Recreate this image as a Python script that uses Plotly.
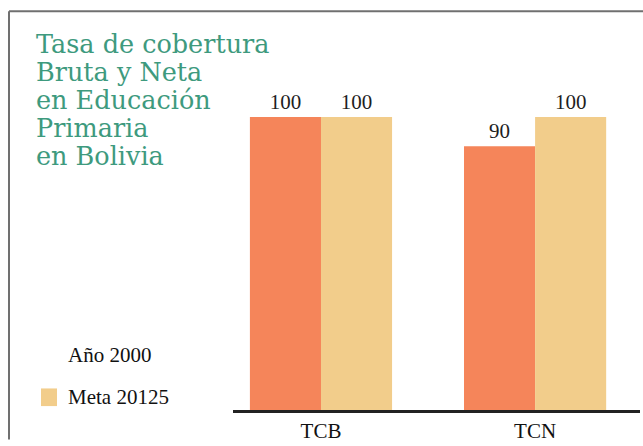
import plotly.graph_objects as go

# --- data ---
categories = ['TCB', 'TCN']
anio_2000 = [100, 90]
meta_2015 = [100, 100]
series_names = ['Año 2000', 'Meta 20125']
title_lines = ['Tasa de cobertura', 'Bruta y Neta', 'en Educación', 'Primaria', 'en Bolivia']

c_orange = '#F5855A'
c_beige = '#F2CD8B'
c_title = '#3E9A7E'
serif = 'Liberation Serif'
title_font = 'DejaVu Serif'

# pixel helpers (plot area: x 233..640, y 20..418)
L, R, T, B = 233, 3, 20, 28
W, H = 643, 446
pw, ph = W - L - R, H - T - B
def px_x(x): return (x - L) / pw
def px_y(y): return (H - B - y) / ph

fig = go.Figure()
fig.add_trace(go.Bar(x=categories, y=anio_2000, name=series_names[0],
                     marker_color=c_orange, marker_line_width=0,
                     text=anio_2000, textposition='outside',
                     textfont=dict(family=serif, size=21, color='#1e1e1e')))
fig.add_trace(go.Bar(x=categories, y=meta_2015, name=series_names[1],
                     marker_color=c_beige, marker_line_width=0,
                     text=meta_2015, textposition='outside',
                     textfont=dict(family=serif, size=21, color='#1e1e1e')))

fig.update_layout(
    width=W, height=H,
    margin=dict(l=L, r=R, t=T, b=B, pad=0),
    paper_bgcolor='white', plot_bgcolor='white',
    barmode='group', bargap=0.336, bargroupgap=0,
    showlegend=False,
    xaxis=dict(range=[-0.411, 1.49], showgrid=False, showline=True,
               linecolor='#222', linewidth=3, ticks='',
               tickfont=dict(family=serif, size=21, color='#111')),
    yaxis=dict(range=[0, 133.1], visible=False),
)

# frame (top and left border)
fig.add_shape(type='line', xref='paper', yref='paper',
              x0=px_x(9), x1=px_x(645), y0=px_y(11), y1=px_y(11),
              line=dict(color='#707070', width=2))
fig.add_shape(type='line', xref='paper', yref='paper',
              x0=px_x(9), x1=px_x(9), y0=px_y(11), y1=px_y(448),
              line=dict(color='#707070', width=2))

# title, one line per annotation
for i, line in enumerate(title_lines):
    fig.add_annotation(text=line, xref='paper', yref='paper',
                       x=px_x(34), y=px_y(45 + 28.5 * i),
                       xanchor='left', yanchor='middle', showarrow=False,
                       font=dict(family=title_font, size=25.5, color=c_title))

# legend
fig.add_annotation(text=series_names[0], xref='paper', yref='paper',
                   x=px_x(66), y=px_y(362), xanchor='left', yanchor='middle',
                   showarrow=False, font=dict(family=serif, size=21, color='#111'))
fig.add_annotation(text=series_names[1], xref='paper', yref='paper',
                   x=px_x(66), y=px_y(405), xanchor='left', yanchor='middle',
                   showarrow=False, font=dict(family=serif, size=21, color='#111'))
fig.add_shape(type='rect', xref='paper', yref='paper',
              x0=px_x(41), x1=px_x(57), y0=px_y(396), y1=px_y(414),
              fillcolor=c_beige, line_width=0)

css = ("var s=document.createElement('style');"
       "s.innerHTML='html,body{margin:0;padding:0;overflow:hidden;height:446px;}';"
       "document.head.appendChild(s);")
fig.write_html("out.html", config={'displayModeBar': False}, post_script=css)
